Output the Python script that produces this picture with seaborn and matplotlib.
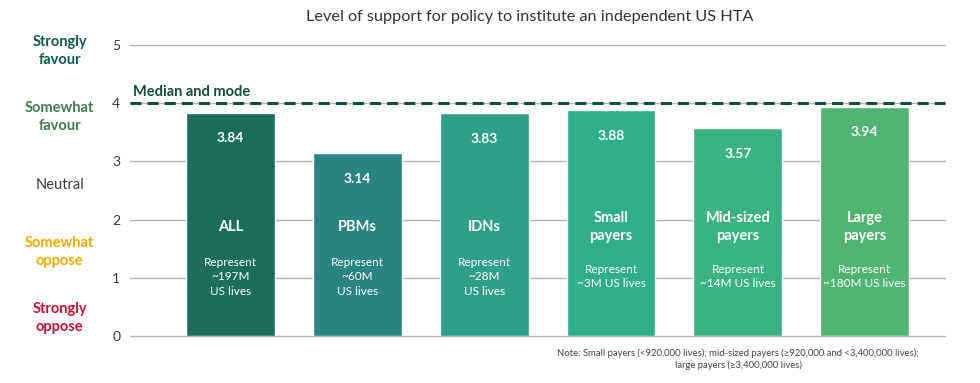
import numpy as np
import pandas as pd
import matplotlib.pyplot as plt
import matplotlib.transforms as mtransforms
import seaborn as sns

# data
groups = ["ALL", "PBMs", "IDNs", "Small payers", "Mid-sized payers", "Large payers"]
bar_labels = ["ALL", "PBMs", "IDNs", "Small\npayers", "Mid-sized\npayers", "Large\npayers"]
scores = [3.84, 3.14, 3.83, 3.88, 3.57, 3.94]
lives = ["Represent\n~197M\nUS lives", "Represent\n~60M\nUS lives", "Represent\n~28M\nUS lives",
         "Represent\n~3M US lives", "Represent\n~14M US lives", "Represent\n~180M US lives"]
median_mode = 4
scale_names = ["Strongly\nfavour", "Somewhat\nfavour", "Neutral", "Somewhat\noppose", "Strongly\noppose"]
scale_pos = [4.9, 3.76, 2.6, 1.45, 0.31]
scale_colors = ["#0b5e4c", "#3f7d4e", "#3a3a3a", "#f0aa00", "#c8102e"]
bar_colors = ["#1b6e5e", "#298580", "#2ea089", "#2fae8a", "#3ab383", "#50b571"]

sns.set_theme(style="white")
plt.rcParams['font.family'] = ['Lato', 'DejaVu Sans']

df = pd.DataFrame({"group": groups, "score": scores})

fig = plt.figure(figsize=(9.8, 3.83), dpi=100)
ax = fig.add_axes([0.1327, 0.1227, 0.8313, 0.7598])

for y in range(0, 6):
    ax.axhline(y, color="#b5b5b5", lw=1, zorder=0, clip_on=False)

sns.barplot(data=df, x="group", y="score", hue="group", palette=bar_colors,
            legend=False, width=0.7, ax=ax, zorder=2, saturation=1)

ax.axhline(median_mode, color="#0e4f3e", lw=2.2, ls=(0, (3.6, 2.0)), zorder=3, clip_on=False)
ax.text(-0.77, median_mode + 0.08, "Median and mode", color="#0e4f3e", fontsize=10.5,
        fontweight="bold", va="bottom", ha="left")

ax.set_xlim(-0.79, 5.63)
ax.set_ylim(0, 5)
sns.despine(ax=ax, left=True, bottom=True)
ax.set_xticks([])
ax.set_xlabel("")
ax.set_ylabel("")
ax.set_yticks(range(0, 6))
ax.set_yticklabels([str(i) for i in range(0, 6)], fontsize=10, color="#3a3a3a")
ax.tick_params(axis="y", length=0, pad=7)

for i, (s, lab, lv) in enumerate(zip(scores, bar_labels, lives)):
    ax.annotate(f"{s:.2f}", (i, s), xytext=(0, -14), textcoords="offset points",
                ha="center", va="top", color="white", fontsize=10, fontweight="bold")
    ax.text(i, 1.88, lab, ha="center", va="center", color="white", fontsize=10.5,
            fontweight="bold", linespacing=1.35)
    ax.text(i, 1.02, lv, ha="center", va="center", color="white", fontsize=8.5,
            linespacing=1.4)

trans = mtransforms.blended_transform_factory(fig.transFigure, ax.transData)
for name, pos, col in zip(scale_names, scale_pos, scale_colors):
    ax.text(0.061, pos, name, transform=trans, ha="center", va="center", color=col,
            fontsize=10.5, fontweight="bold" if col != "#3a3a3a" else "normal",
            linespacing=1.35, clip_on=False)

fig.text(0.541, 0.955, "Level of support for policy to institute an independent US HTA",
         ha="center", va="center", fontsize=11.7, color="#333333")
fig.text(0.753, 0.062, "Note: Small payers (<920,000 lives); mid-sized payers (\u2265920,000 and <3,400,000 lives);\nlarge payers (\u22653,400,000 lives)",
         ha="center", va="center", fontsize=6.8, color="#444444", linespacing=1.45)

fig.savefig("out.png", dpi=100)
